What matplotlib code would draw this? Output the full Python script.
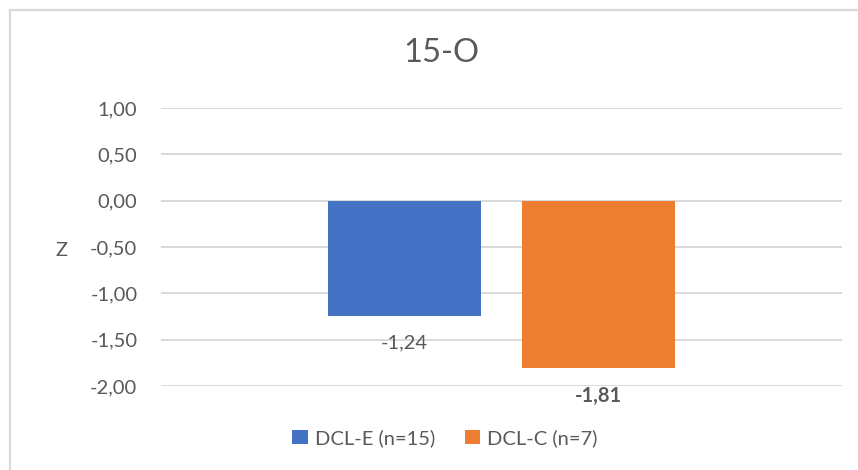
"""Z-score bar chart for the 15-O item, two DCL groups."""

import matplotlib.pyplot as plt
from matplotlib.patches import Rectangle

TITLE = "15-O"
GROUPS = ["DCL-E (n=15)", "DCL-C (n=7)"]
Z_VALUES = [-1.24, -1.81]
COLORS = ["#4472C4", "#ED7D31"]
Y_TICKS = [1.0, 0.5, 0.0, -0.5, -1.0, -1.5, -2.0]

TEXT_COLOR = "#595959"
GRID_COLOR = "#D9D9D9"
W, H = 858, 470
FS = 14.5

plt.rcParams["font.family"] = ["Lato", "DejaVu Sans"]

fig = plt.figure(figsize=(W / 100, H / 100), dpi=100)
ax = fig.add_axes([161 / W, 1 - 386 / H, 681 / W, 278 / H])

bar_width = 0.225
gap = 0.06
offsets = [-(bar_width + gap) / 2, (bar_width + gap) / 2]

for i, (label, value, color) in enumerate(zip(GROUPS, Z_VALUES, COLORS)):
    ax.bar(offsets[i], value, width=bar_width, color=color, label=label, zorder=3)
    weight = "bold" if i == 1 else "normal"
    ax.text(offsets[i], value - 0.30, f"{value:.2f}".replace(".", ","),
            ha="center", va="center", fontsize=FS, color=TEXT_COLOR,
            fontweight=weight)

ax.set_xlim(-0.5, 0.5)
ax.set_ylim(-2.0, 1.0)
ax.set_yticks(Y_TICKS)
ax.set_yticklabels([f"{t:.2f}".replace(".", ",") for t in Y_TICKS],
                   fontsize=FS, color=TEXT_COLOR)
ax.set_xticks([])
ax.tick_params(axis="y", length=0, pad=17)
ax.grid(axis="y", color=GRID_COLOR, linewidth=1.4, zorder=0)
for spine in ax.spines.values():
    spine.set_visible(False)

ax.set_ylabel("Z", rotation=0, fontsize=FS, color=TEXT_COLOR,
              ha="center", va="center")
ax.yaxis.set_label_coords((62 - 161) / 681, (386 - 251) / 278)

fig.text(441 / W, 1 - 53 / H, TITLE, ha="center", va="center",
         fontsize=23.5, color=TEXT_COLOR)

fig.legend(loc="center", bbox_to_anchor=(445 / W, 1 - 438 / H), ncol=2,
           frameon=False, fontsize=FS, labelcolor=TEXT_COLOR,
           handlelength=0.75, handleheight=0.75, handletextpad=0.35,
           columnspacing=1.5)

# chart frame: only the top and left edges fall inside the canvas
fig.add_artist(Rectangle((9.5 / W, -0.2), 1.2, 1.2 - 9.5 / H,
                         transform=fig.transFigure, fill=False,
                         edgecolor=GRID_COLOR, linewidth=1.6))

fig.savefig("out.png", dpi=100)
